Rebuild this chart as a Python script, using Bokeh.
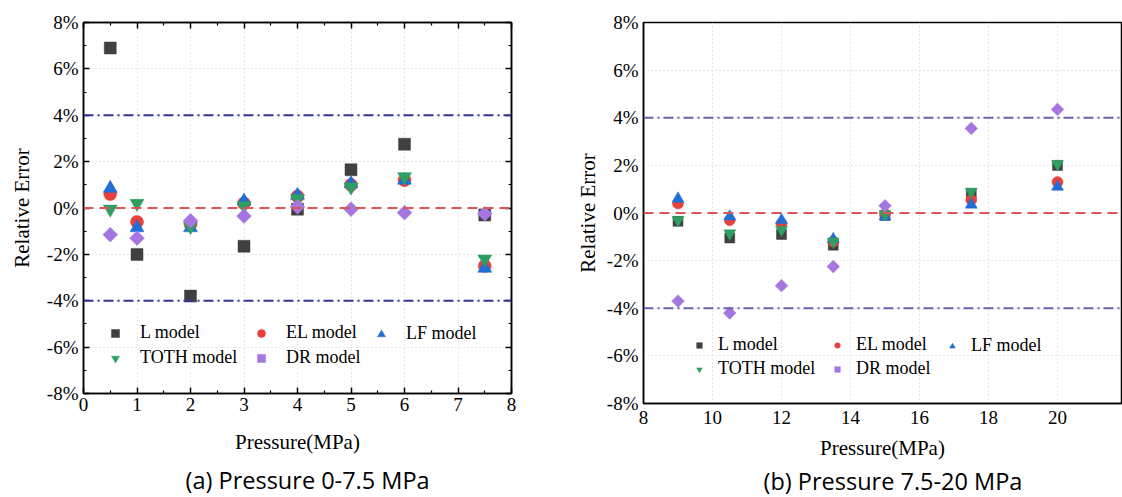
import math
from bokeh.plotting import figure
from bokeh.models import (Range1d, Span, LinearAxis, FixedTicker, PrintfTickFormatter,
                          Legend, LegendItem, Title)
from bokeh.layouts import row
from bokeh.embed import file_html
from bokeh.resources import INLINE

# ---------------- data ----------------
series_names = ["L model", "EL model", "LF model", "TOTH model", "DR model"]

pressure_a = [0.5, 1, 2, 3, 4, 5, 6, 7.5]
l_a    = [6.9, -2.0, -3.8, -1.65, -0.05, 1.65, 2.75, -0.3]
el_a   = [0.6, -0.6, -0.7, 0.2, 0.5, 1.0, 1.2, -2.5]
lf_a   = [0.85, -0.85, -0.85, 0.3, 0.55, 1.05, 1.2, -2.6]
toth_a = [-0.05, 0.2, -0.8, 0.1, 0.4, 0.9, 1.35, -2.2]
dr_a   = [-1.15, -1.3, -0.55, -0.35, 0.05, -0.05, -0.2, -0.25]

pressure_b = [9, 10.5, 12, 13.5, 15, 17.5, 20]
l_b    = [-0.35, -1.05, -0.9, -1.35, -0.1, 0.8, 2.0]
el_b   = [0.4, -0.3, -0.45, -1.2, -0.05, 0.55, 1.3]
lf_b   = [0.6, -0.15, -0.3, -1.1, -0.15, 0.35, 1.1]
toth_b = [-0.3, -0.85, -0.7, -1.2, -0.05, 0.9, 2.05]
dr_b   = [-3.7, -4.2, -3.05, -2.25, 0.3, 3.55, 4.35]

limit_lines = [4, -4]
zero_line = 0

y_ticks = [-8, -6, -4, -2, 0, 2, 4, 6, 8]
y_minor = [-7, -5, -3, -1, 1, 3, 5, 7]
x_ticks_a = [0, 1, 2, 3, 4, 5, 6, 7, 8]
x_minor_a = [0.5, 1.5, 2.5, 3.5, 4.5, 5.5, 6.5, 7.5]
x_ticks_b = [8, 10, 12, 14, 16, 18, 20]

captions = ["(a) Pressure 0-7.5 MPa", "(b) Pressure 7.5-20 MPa"]

# legend columns (indices into series_names)
legend_columns = [[0, 3], [1, 4], [2]]

# ---------------- style ----------------
markers = ["square", "circle", "triangle", "inverted_triangle", "square"]
angles = [0, 0, 0, 0, math.pi / 4]
colors = ["#404040", "#e8403a", "#1f6fd6", "#2f9e62", "#a676e0"]
SERIF = "Liberation Serif"


def style_axis(ax, size, show_ticks=True):
    ax.axis_line_color = "black"
    ax.axis_line_width = 1.5
    ax.major_label_text_font = SERIF
    ax.major_label_text_font_size = size
    ax.major_label_text_font_style = "normal"
    ax.major_label_text_color = "black"
    ax.axis_label_text_font = SERIF
    ax.axis_label_text_font_style = "normal"
    ax.axis_label_text_color = "black"
    ax.major_tick_out = 0
    ax.minor_tick_out = 0
    if show_ticks:
        ax.major_tick_in = 6
        ax.minor_tick_in = 3
        ax.major_tick_line_width = 1.5
        ax.minor_tick_line_width = 1.2
        ax.major_tick_line_color = "black"
        ax.minor_tick_line_color = "black"
    else:
        ax.major_tick_in = 0
        ax.minor_tick_in = 0
        ax.major_tick_line_color = None
        ax.minor_tick_line_color = None


def make_panel(xs, ys_list, x_range, frame_w, frame_h, border_right, xticks, xminor,
               yminor, msizes, col_x, leg_bottom, leg_font, glyph_w, standoff, row_gap,
               blue_col, caption, cap_size, cap_standoff, cap_offset, xl_standoff,
               tick_standoff, yl_standoff, ticks_visible, mirror):
    top = 22
    bottom = 497 - top - frame_h
    p = figure(frame_width=frame_w, frame_height=frame_h,
               x_range=Range1d(*x_range), y_range=Range1d(-8, 8),
               output_backend="svg", toolbar_location=None,
               min_border_left=83, min_border_right=border_right,
               min_border_top=top, min_border_bottom=bottom,
               outline_line_color="black", outline_line_width=1.5,
               background_fill_color="white", border_fill_color="white")
    p.frame_align = False
    p.xaxis.ticker = FixedTicker(ticks=xticks, minor_ticks=xminor)
    p.yaxis.ticker = FixedTicker(ticks=y_ticks, minor_ticks=yminor)
    p.yaxis.formatter = PrintfTickFormatter(format="%d%%")
    style_axis(p.xaxis[0], "19px", show_ticks=ticks_visible)
    style_axis(p.yaxis[0], "19px", show_ticks=ticks_visible)
    p.xaxis.major_label_standoff = tick_standoff
    p.yaxis.major_label_standoff = 5
    p.xaxis.axis_label = "Pressure(MPa)"
    p.yaxis.axis_label = "Relative Error"
    p.xaxis.axis_label_text_font_size = "21px"
    p.yaxis.axis_label_text_font_size = "21px"
    p.xaxis.axis_label_standoff = xl_standoff
    p.yaxis.axis_label_standoff = yl_standoff

    if mirror:
        for loc, tick in (("above", p.xaxis[0].ticker), ("right", p.yaxis[0].ticker)):
            ax = LinearAxis(ticker=tick)
            style_axis(ax, "1px")
            ax.major_label_text_color = None
            ax.major_label_standoff = 0
            p.add_layout(ax, loc)

    p.xgrid.grid_line_color = "#cfcfcf"
    p.ygrid.grid_line_color = "#cfcfcf"
    p.xgrid.grid_line_dash = "1 3"
    p.ygrid.grid_line_dash = "1 3"

    p.add_layout(Span(location=zero_line, dimension="width", line_color="#dd5555",
                      line_dash="10 6", line_width=2))
    for v in limit_lines:
        p.add_layout(Span(location=v, dimension="width", line_color=blue_col,
                          line_dash="10 4 2 4", line_width=2))

    renderers = []
    for ys, mk, ang, col, ms in zip(ys_list, markers, angles, colors, msizes):
        r = p.scatter(xs, ys, marker=mk, angle=ang, size=ms, fill_color=col,
                      line_color=col, line_width=0.5)
        renderers.append(r)

    for cx, idxs in zip(col_x, legend_columns):
        items = [LegendItem(label=series_names[i], renderers=[renderers[i]]) for i in idxs]
        n = len(idxs)
        leg = Legend(items=items, location=(cx, leg_bottom + (2 - n) * (20 + row_gap)),
                     orientation="vertical",
                     background_fill_alpha=0, border_line_color=None,
                     label_text_font=SERIF, label_text_font_size=leg_font,
                     label_text_color="black",
                     glyph_width=glyph_w, glyph_height=20, label_standoff=standoff,
                     spacing=row_gap, padding=0, margin=0, label_height=20)
        p.add_layout(leg)

    p.add_layout(Title(text=caption, align="left", text_font="Open Sans",
                       text_font_size=cap_size, text_font_style="normal",
                       text_color="black", offset=cap_offset, standoff=cap_standoff),
                 "below")
    return p


pa = make_panel(pressure_a, [l_a, el_a, lf_a, toth_a, dr_a], (0, 8), 428, 371, 49,
                x_ticks_a, x_minor_a, y_minor, [12, 13, 14, 14, 10.5],
                [22, 168, 288], 25, "18px", 20, 15, 4,
                "#34349c", captions[0], "23.5px", 10, 102, 16, 4, 10, True, True)

pb = make_panel(pressure_b, [l_b, el_b, lf_b, toth_b, dr_b], (8, 8 + 478 / 34.5), 478, 381, 1,
                x_ticks_b, [], [], [10, 11, 12, 12, 9],
                [49, 187, 302], 24, "18px", 14, 12, 3,
                "#6a62b2", captions[1], "23.5px", 0, 120, 9, 7, 4, False, False)

layout = row(pa, pb, spacing=0)
open("out.html", "w").write(file_html(layout, INLINE))
